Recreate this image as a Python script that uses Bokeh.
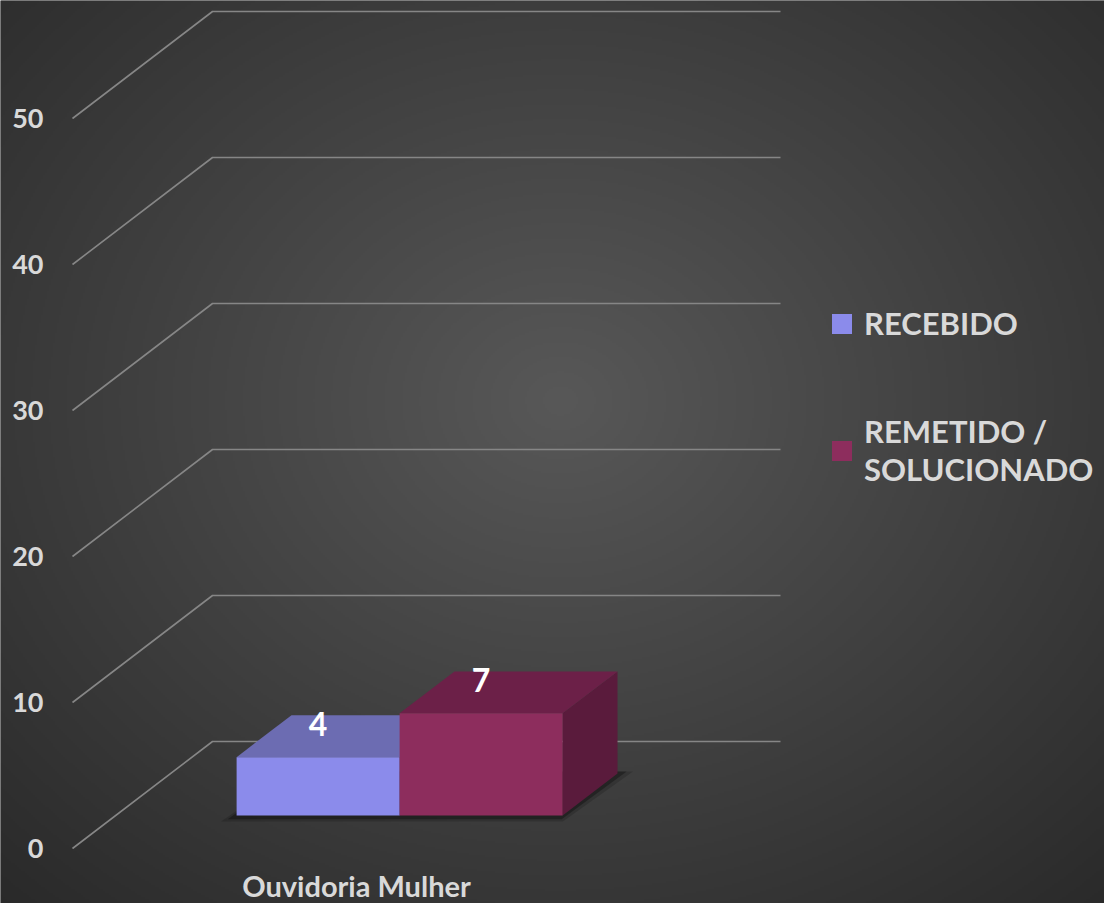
import numpy as np
from bokeh.plotting import figure
from bokeh.models import LinearAxis, FixedTicker, Legend, LegendItem, Range1d
from bokeh.core.properties import value
from bokeh.embed import file_html
from bokeh.resources import INLINE

# ---------------- data ----------------
categories = ["Ouvidoria Mulher"]
series_names = ["RECEBIDO", "REMETIDO /\nSOLUCIONADO"]
recebido = [4]
remetido = [7]
y_ticks = [0, 10, 20, 30, 40, 50]

series_values = [recebido, remetido]
front_colors = ["#8B8BEB", "#8D2D5D"]
top_colors = ["#6C6CB2", "#6C2048"]
side_colors = ["#55558E", "#5A1B3C"]

# ---------------- layout / projection ----------------
W, H = 1104, 903
PX_PER_U = 568.0      # front-plane pixels per category unit
PX_PER_V = 14.6       # front-plane pixels per value unit
X0_PX = 72            # frame x of category start
Y0_PX = 848           # frame y (from top) of value 0
x_start = -X0_PX / PX_PER_U
x_end = (W - X0_PX) / PX_PER_U
y_end = Y0_PX / PX_PER_V
y_start = -(H - Y0_PX) / PX_PER_V

DEPTH_DU = 140 / PX_PER_U
DEPTH_DV = 107 / PX_PER_V


def proj(u, v, d):
    return u + d * DEPTH_DU, v + d * DEPTH_DV


def u_of_px(px):
    return (px - X0_PX) / PX_PER_U


def v_of_py(py):
    return (Y0_PX - py) / PX_PER_V


p = figure(width=W, height=H, x_range=Range1d(x_start, x_end),
           y_range=Range1d(y_start, y_end), output_backend="svg",
           toolbar_location=None, x_axis_location=None, y_axis_location=None,
           min_border=0, outline_line_color=None,
           background_fill_color="#2e2e2e", border_fill_color="#2e2e2e")
p.grid.visible = False

# ---------------- background radial gradient ----------------
nx, ny = 552, 452
gx = np.linspace(0, W, nx)
gy = np.linspace(H, 0, ny)
GX, GY = np.meshgrid(gx, gy)
r = np.sqrt(((GX - 560) / 760.0) ** 2 + ((GY - 400) / 640.0) ** 2)
c = np.clip(88 - 43 * np.clip(r, 0, 1.15), 0, 255).astype(np.uint32)
img = (255 << 24) | (c << 16) | (c << 8) | c
p.image_rgba(image=[img.astype(np.uint32)], x=x_start, y=y_start,
             dw=x_end - x_start, dh=y_end - y_start)

# ---------------- gridlines (floor-to-back-wall) ----------------
gxs, gys = [], []
for t in y_ticks:
    pts = [proj(0, t, 0), proj(0, t, 1), proj(1, t, 1)]
    gxs.append([q[0] for q in pts])
    gys.append([q[1] for q in pts])
p.multi_line(gxs, gys, line_color="#868686", line_width=1.6)

# ---------------- bars ----------------
bar_w = 0.287
d0, d1 = 0.308, 0.70
n_series = len(series_values)

# soft shadow on the floor
for ci, cat in enumerate(categories):
    a_min = ci + 0.5 - bar_w * n_series / 2
    b_max = ci + 0.5 + bar_w * n_series / 2
    for grow, dd, alpha in [(0.014, 0.055, 0.16), (0.007, 0.035, 0.30)]:
        pts = [proj(a_min - grow, 0, d0 - dd), proj(b_max + grow, 0, d0 - dd),
               proj(b_max + grow * 1.6, 0, d1 + 0.02), proj(a_min, 0, d1 + 0.02)]
        p.patch([q[0] for q in pts], [q[1] for q in pts],
                fill_color="black", fill_alpha=alpha, line_color=None)

front_renderers = []
label_x, label_y, label_t = [], [], []
for si, vals in enumerate(series_values):
    fx, fy, tx, ty, sx, sy = [], [], [], [], [], []
    for ci, val in enumerate(vals):
        a = ci + 0.5 - bar_w * n_series / 2 + si * bar_w
        b = a + bar_w
        f = [proj(a, 0, d0), proj(b, 0, d0), proj(b, val, d0), proj(a, val, d0)]
        t = [proj(a, val, d0), proj(b, val, d0), proj(b, val, d1), proj(a, val, d1)]
        s = [proj(b, 0, d0), proj(b, 0, d1), proj(b, val, d1), proj(b, val, d0)]
        fx.append([q[0] for q in f]); fy.append([q[1] for q in f])
        tx.append([q[0] for q in t]); ty.append([q[1] for q in t])
        sx.append([q[0] for q in s]); sy.append([q[1] for q in s])
        cx, cy = proj((a + b) / 2, val, d0)
        label_x.append(cx); label_y.append(cy); label_t.append(str(val))
    p.patches(sx, sy, fill_color=side_colors[si], line_color=None)
    p.patches(tx, ty, fill_color=top_colors[si], line_color=None)
    fr = p.patches(fx, fy, fill_color=front_colors[si], line_color=None)
    front_renderers.append(fr)

p.text(label_x, label_y, text=label_t, y_offset=-33, text_align="center",
       text_baseline="middle", text_font=value("Lato"), text_font_style="bold",
       text_font_size="32px", text_color="white")

# ---------------- axes ----------------
yaxis = LinearAxis(fixed_location=u_of_px(57), ticker=FixedTicker(ticks=y_ticks))
yaxis.axis_line_color = None
yaxis.major_tick_line_color = None
yaxis.minor_tick_line_color = None
yaxis.major_label_standoff = 8
yaxis.major_label_text_font = "Lato"
yaxis.major_label_text_font_style = "bold"
yaxis.major_label_text_font_size = "27px"
yaxis.major_label_text_color = "#d9d9d9"
p.add_layout(yaxis, "left")

cat_pos = [ci + 0.5 for ci in range(len(categories))]
xaxis = LinearAxis(fixed_location=v_of_py(851), ticker=FixedTicker(ticks=cat_pos),
                   major_label_overrides={pos: name for pos, name in zip(cat_pos, categories)})
xaxis.axis_line_color = None
xaxis.major_tick_line_color = None
xaxis.minor_tick_line_color = None
xaxis.major_label_standoff = 10
xaxis.major_label_text_font = "Lato"
xaxis.major_label_text_font_style = "bold"
xaxis.major_label_text_font_size = "29px"
xaxis.major_label_text_color = "#d9d9d9"
p.add_layout(xaxis, "below")

# ---------------- legend ----------------
legend = Legend(items=[LegendItem(label=n, renderers=[r]) for n, r in zip(series_names, front_renderers)],
                location=(829, 415), glyph_width=25, glyph_height=25, label_standoff=10,
                spacing=70, padding=0, margin=0, border_line_color=None,
                background_fill_alpha=0, label_text_font="Lato",
                label_text_font_style="bold", label_text_font_size="31px",
                label_text_color="#d9d9d9")
p.add_layout(legend)

open("out.html", "w").write(file_html(p, INLINE))
